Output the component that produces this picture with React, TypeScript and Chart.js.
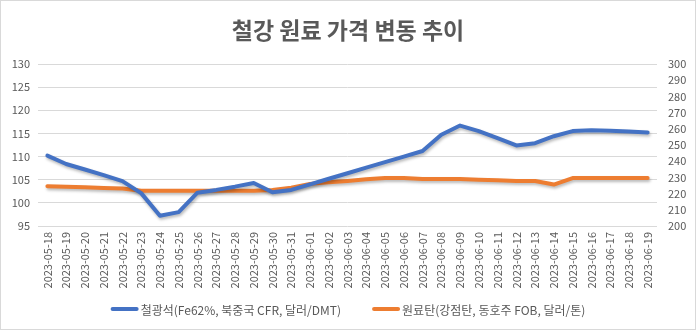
import React, { useEffect, useRef } from "react";
import { Chart, registerables } from "chart.js";

Chart.register(...registerables);

const categories = [
  "2023-05-18", "2023-05-19", "2023-05-20", "2023-05-21", "2023-05-22", "2023-05-23", "2023-05-24",
  "2023-05-25", "2023-05-26", "2023-05-27", "2023-05-28", "2023-05-29", "2023-05-30", "2023-05-31",
  "2023-06-01", "2023-06-02", "2023-06-03", "2023-06-04", "2023-06-05", "2023-06-06", "2023-06-07",
  "2023-06-08", "2023-06-09", "2023-06-10", "2023-06-11", "2023-06-12", "2023-06-13", "2023-06-14",
  "2023-06-15", "2023-06-16", "2023-06-17", "2023-06-18", "2023-06-19",
];

const ironOre = [
  110.2, 108.4, 107.2, 106.0, 104.7, 102.1, 97.2, 98.0, 102.2, 102.8, 103.5, 104.3, 102.3, 102.8,
  104.0, 105.2, 106.4, 107.6, 108.8, 110.0, 111.2, 114.7, 116.7, 115.5, 114.0, 112.4, 112.9, 114.4,
  115.5, 115.7, 115.6, 115.4, 115.2,
];

const cokingCoal = [
  224.6, 224.2, 223.9, 223.5, 223.2, 221.8, 221.8, 221.8, 221.8, 221.8, 221.8, 221.8, 222.2, 223.6,
  226.0, 227.0, 227.8, 228.8, 229.6, 229.6, 229.0, 229.0, 229.0, 228.6, 228.2, 227.8, 227.8, 225.6,
  229.6, 229.6, 229.6, 229.6, 229.6,
];

const seriesNames = ["철광석(Fe62%, 북중국 CFR, 달러/DMT)", "원료탄(강점탄, 동호주 FOB, 달러/톤)"];
const seriesColors = ["#4472C4", "#ED7D31"];
const titleText = "철강 원료 가격 변동 추이";

const FONT = "'Noto Sans CJK KR', 'Noto Sans', sans-serif";
const TEXT = "#595959";

export default function App() {
  const ref = useRef<HTMLCanvasElement | null>(null);

  useEffect(() => {
    document.body.style.margin = "0";
    const canvas = ref.current;
    if (!canvas) return;

    const decor = {
      id: "decor",
      beforeDatasetDraw(chart: any) {
        const ctx = chart.ctx;
        ctx.save();
        ctx.shadowColor = "rgba(0,0,0,0.28)";
        ctx.shadowBlur = 3;
        ctx.shadowOffsetY = 2;
        ctx.shadowOffsetX = 1;
      },
      afterDatasetDraw(chart: any) {
        chart.ctx.restore();
      },
      afterDraw(chart: any) {
        const ctx = chart.ctx;
        const W = chart.width;
        const H = chart.height;
        ctx.save();
        // border
        ctx.strokeStyle = "#d9d9d9";
        ctx.lineWidth = 1;
        ctx.strokeRect(0.5, 0.5, W - 1, H - 1);
        // title
        ctx.fillStyle = TEXT;
        ctx.font = `bold 23px ${FONT}`;
        ctx.textAlign = "center";
        ctx.textBaseline = "middle";
        ctx.fillText(titleText, W / 2, 30);
        // legend
        ctx.font = `12px ${FONT}`;
        ctx.textBaseline = "middle";
        ctx.textAlign = "left";
        const sample = 28;
        const gap = 2;
        const spacing = 31;
        const w0 = ctx.measureText(seriesNames[0]).width;
        const w1 = ctx.measureText(seriesNames[1]).width;
        const total = sample + gap + w0 + spacing + sample + gap + w1;
        let x = W / 2 - total / 2;
        const y = 309;
        for (let i = 0; i < 2; i++) {
          ctx.strokeStyle = seriesColors[i];
          ctx.lineWidth = 4;
          ctx.lineCap = "round";
          ctx.beginPath();
          ctx.moveTo(x + 2, y);
          ctx.lineTo(x + sample - 2, y);
          ctx.stroke();
          x += sample + gap;
          ctx.fillStyle = TEXT;
          ctx.fillText(seriesNames[i], x, y + 1);
          x += (i === 0 ? w0 : w1) + spacing;
        }
        ctx.restore();
      },
    };

    const chart = new Chart(canvas, {
      type: "line",
      data: {
        labels: categories,
        datasets: [
          {
            label: seriesNames[0],
            data: ironOre,
            yAxisID: "y",
            borderColor: seriesColors[0],
            backgroundColor: seriesColors[0],
            borderWidth: 4,
            pointRadius: 0,
            tension: 0,
            borderCapStyle: "round",
            borderJoinStyle: "round",
          },
          {
            label: seriesNames[1],
            data: cokingCoal,
            yAxisID: "y1",
            borderColor: seriesColors[1],
            backgroundColor: seriesColors[1],
            borderWidth: 4,
            pointRadius: 0,
            tension: 0,
            borderCapStyle: "round",
            borderJoinStyle: "round",
          },
        ],
      },
      options: {
        responsive: false,
        animation: false,
        layout: { padding: { top: 64, bottom: 0, left: 0, right: 0 } },
        plugins: {
          legend: { display: false },
          title: { display: false },
          tooltip: { enabled: false },
        },
        scales: {
          x: {
            offset: true,
            grid: { display: false, drawTicks: false },
            border: { display: false },
            ticks: {
              color: TEXT,
              font: { family: FONT, size: 11 },
              minRotation: 90,
              maxRotation: 90,
              autoSkip: false,
              padding: 6,
            },
            afterFit(scale: any) {
              scale.height = 104;
            },
          },
          y: {
            position: "left",
            min: 95,
            max: 130,
            grid: { color: "#d9d9d9", drawTicks: false, lineWidth: 1 },
            border: { display: false },
            ticks: {
              stepSize: 5,
              color: TEXT,
              font: { family: FONT, size: 11 },
              padding: 8,
            },
            afterFit(scale: any) {
              scale.width = 38;
            },
          },
          y1: {
            position: "right",
            min: 200,
            max: 300,
            grid: { display: false, drawTicks: false },
            border: { display: false },
            ticks: {
              stepSize: 10,
              color: TEXT,
              font: { family: FONT, size: 11 },
              padding: 11,
            },
            afterFit(scale: any) {
              scale.width = 39;
            },
          },
        },
      },
      plugins: [decor],
    });

    return () => chart.destroy();
  }, []);

  return (
    <div style={{ width: 696, height: 330 }}>
      <canvas ref={ref} width={696} height={330} style={{ display: "block", width: 696, height: 330 }} />
    </div>
  );
}
